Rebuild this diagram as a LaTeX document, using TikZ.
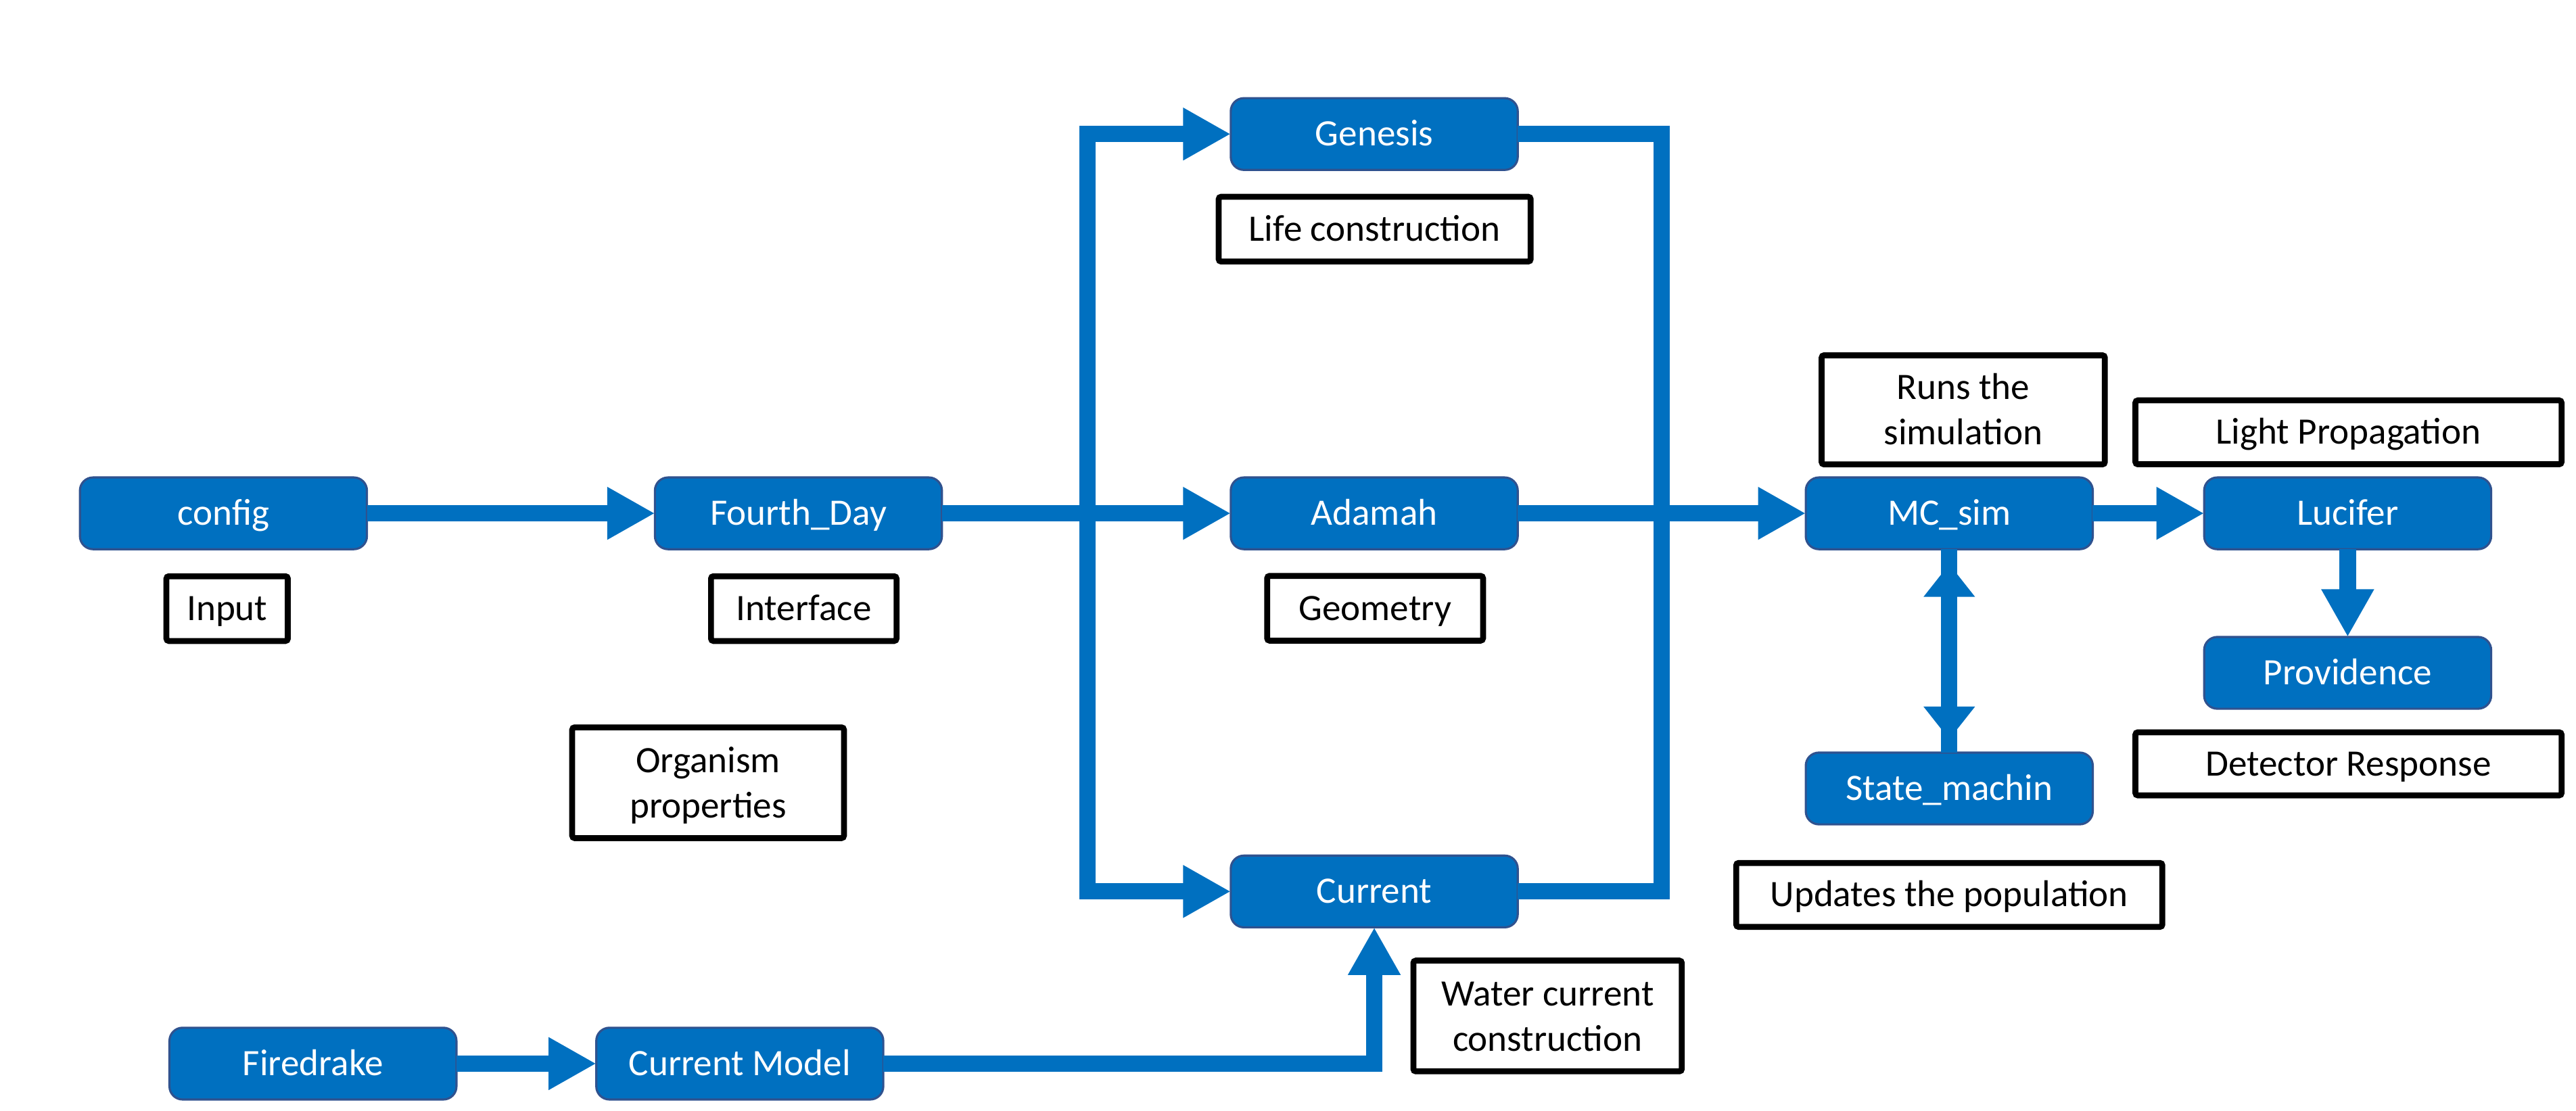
\documentclass[tikz,border=0pt]{standalone}
\usepackage{fontspec}
\setmainfont{Carlito}
\usetikzlibrary{arrows.meta}
\definecolor{mblue}{HTML}{0070C0}
\definecolor{mborder}{HTML}{2F528F}
\newcommand{\firstln}[1]{\raisebox{0pt}[15pt][0pt]{#1}}
\newcommand{\lastln}[1]{\raisebox{0pt}[\height][0pt]{#1}}
\begin{document}
\begin{tikzpicture}[x=1pt,y=-1pt,
  font=\fontsize{22.7}{27.7}\selectfont,
  oneline/.style={text height=16pt, text depth=1.6pt},
  bluebox/.style={oneline, draw=mborder, line width=1.3pt, fill=mblue, text=white, rounded corners=8pt,
    minimum width=174.7pt, minimum height=43.7pt, inner sep=0pt, outer sep=0pt},
  labelbox/.style={draw=black, line width=3.6pt, fill=white, rounded corners=1.5pt,
    inner sep=0pt, outer sep=0pt, align=center},
  conn/.style={draw=mblue, line width=10pt, line join=miter},
  arr/.style={conn, -{Triangle[length=29pt,width=30pt]}},
]
\useasboundingbox (0,0) rectangle (1568,676);

% blue process boxes
\node[bluebox] (config) at (136,312.5) {config};
\node[bluebox] (fourth) at (486,312.5) {Fourth\_Day};
\node[bluebox] (genesis) at (836.5,81.6) {Genesis};
\node[bluebox] (adamah) at (836.5,312.5) {Adamah};
\node[bluebox] (current) at (836.5,542.7) {Current};
\node[bluebox] (mcsim) at (1186.5,312.5) {MC\_sim};
\node[bluebox] (lucifer) at (1429,312.5) {Lucifer};
\node[bluebox] (providence) at (1429,409.6) {Providence};
\node[bluebox] (state) at (1186.5,480) {State\_machin};
\node[bluebox] (firedrake) at (190.5,647.5) {Firedrake};
\node[bluebox] (cmodel) at (450.3,647.5) {Current Model};

% label boxes
\node[labelbox, oneline, minimum width=73.9pt, minimum height=39.4pt] (lInput) at (138.25,370.5) {Input};
\node[labelbox, oneline, minimum width=112.9pt, minimum height=39.4pt] (lInterface) at (489.25,370.5) {Interface};
\node[labelbox, minimum width=165.4pt, minimum height=67.4pt] (lOrganism) at (431,476.5) {\firstln{Organism}\\\lastln{properties}};
\node[labelbox, oneline, minimum width=189.9pt, minimum height=39.4pt] (lLife) at (836.75,139.5) {Life construction};
\node[labelbox, oneline, minimum width=131.4pt, minimum height=39.4pt] (lGeometry) at (837,370.3) {Geometry};
\node[labelbox, minimum width=163.4pt, minimum height=67.4pt] (lWater) at (942,618.5) {\firstln{Water current}\\\lastln{construction}};
\node[labelbox, minimum width=172.4pt, minimum height=66.4pt] (lRuns) at (1195,249.5) {\firstln{Runs the}\\\lastln{simulation}};
\node[labelbox, oneline, minimum width=259.4pt, minimum height=38.9pt] (lLight) at (1429.5,263.2) {Light Propagation};
\node[labelbox, oneline, minimum width=259.4pt, minimum height=38.4pt] (lDetector) at (1429.5,465) {Detector Response};
\node[labelbox, oneline, minimum width=259.4pt, minimum height=38.9pt] (lUpdates) at (1186.5,544.8) {Updates the population};

% junction points
\coordinate (fkL) at (662,312.5);
\coordinate (fkR) at (1011.5,312.5);

% connectors
\draw[arr] (config.east) -- (fourth.west);
\draw[arr] (fourth.east) -- (adamah.west);
\draw[arr] (fkL) |- (genesis.west);
\draw[arr] (fkL) |- (current.west);
\draw[conn] (genesis.east) -| (fkR) |- (current.east);
\draw[arr] (adamah.east) -- (mcsim.west);
\draw[arr] (mcsim.east) -- (lucifer.west);
\draw[arr] (lucifer.south) -- (providence.north);
\draw[conn] (mcsim.south) -- (state.north);
\draw[conn, {Triangle[length=20pt,width=30pt]}-{Triangle[length=20pt,width=30pt]},
  shorten <=9pt, shorten >=8pt] (mcsim.south) -- (state.north);
\draw[arr] (firedrake.east) -- (cmodel.west);
\draw[arr] (cmodel.east) -| (current.south);
\end{tikzpicture}
\end{document}
